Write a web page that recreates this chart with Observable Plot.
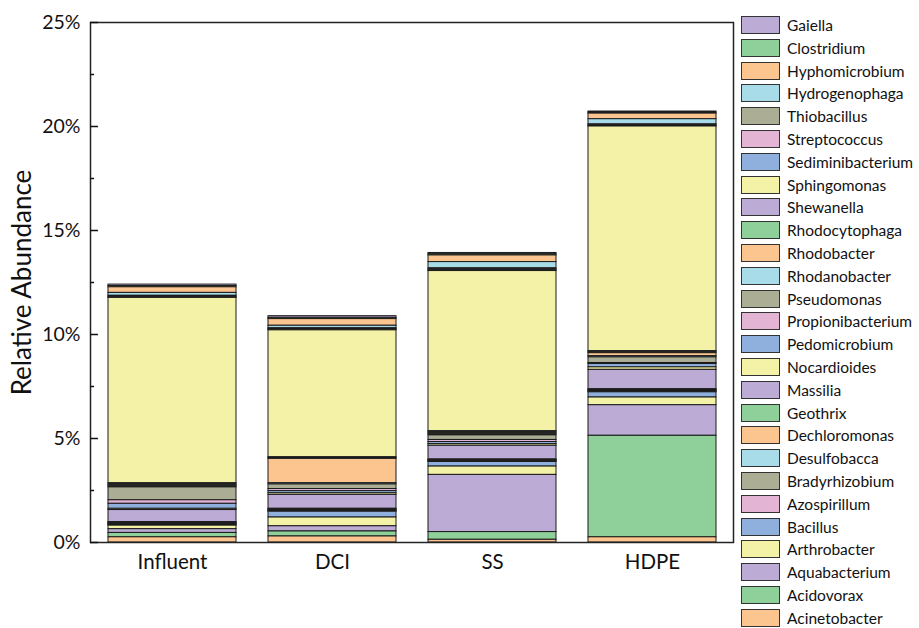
<!DOCTYPE html>
<html><head><meta charset="utf-8">
<script src="https://cdn.jsdelivr.net/npm/d3@7"></script>
<script src="https://cdn.jsdelivr.net/npm/@observablehq/plot@0.6"></script>
<style>
body{margin:0;background:#fff;font-family:Lato,sans-serif;}
#wrap{position:relative;width:919px;height:628px;overflow:hidden;background:#fff;}
#chart{position:absolute;left:0;top:0;}
#legend{position:absolute;left:741px;top:0;}
.row{position:absolute;left:0;height:19px;display:flex;align-items:center;white-space:nowrap;}
.sw{width:37px;height:16px;border:1.5px solid #333;box-sizing:content-box;}
.lab{margin-left:7px;font-size:15.5px;color:#111;}
</style></head><body><div id="wrap"><div id="chart"></div><div id="legend"></div></div>
<script>
// Samples (x categories)
const samples = ["Influent", "DCI", "SS", "HDPE"];
// Genera in legend order (top of stack first)
const genera = ["Gaiella","Clostridium","Hyphomicrobium","Hydrogenophaga","Thiobacillus","Streptococcus","Sediminibacterium","Sphingomonas","Shewanella","Rhodocytophaga","Rhodobacter","Rhodanobacter","Pseudomonas","Propionibacterium","Pedomicrobium","Nocardioides","Massilia","Geothrix","Dechloromonas","Desulfobacca","Bradyrhizobium","Azospirillum","Bacillus","Arthrobacter","Aquabacterium","Acidovorax","Acinetobacter"];
// Relative abundance (%) per sample, in the same order as genera
const influent = [0.07,0.06,0.27,0.14,0.04,0.03,0.03,8.91,0.05,0.05,0.05,0.05,0.62,0.17,0.24,0.06,0.58,0.03,0.03,0.02,0.03,0.02,0.04,0.17,0.18,0.21,0.25];
const dci      = [0.08,0.06,0.32,0.12,0.04,0.03,0.03,6.10,0.04,0.04,1.17,0.06,0.22,0.10,0.10,0.08,0.67,0.03,0.03,0.02,0.03,0.03,0.28,0.42,0.25,0.24,0.29];
const ss       = [0.06,0.06,0.32,0.30,0.05,0.04,0.04,7.70,0.05,0.05,0.05,0.05,0.22,0.10,0.10,0.08,0.66,0.03,0.02,0.02,0.02,0.03,0.22,0.40,2.75,0.37,0.13];
const hdpe     = [0.05,0.05,0.27,0.25,0.04,0.03,0.03,10.80,0.05,0.05,0.14,0.06,0.27,0.05,0.16,0.12,0.93,0.04,0.03,0.02,0.03,0.03,0.25,0.37,1.47,4.88,0.25];
// Axis ticks
const majorTicks = [0, 5, 10, 15, 20, 25];
const minorTicks = [2.5, 7.5, 12.5, 17.5, 22.5];

const palette = ["#BCABD4","#8ECF9A","#FCC58F","#A8DCE9","#ABAE94","#E4B4D5","#8FB0DD","#F4F2A6"];
const colorRange = genera.map((g, i) => palette[i % palette.length]);
const series = [influent, dci, ss, hdpe];
const rows = samples.flatMap((s, j) => genera.map((g, i) => ({sample: s, genus: g, value: series[j][i]})));
const stackOrder = genera.slice().reverse();

const chart = Plot.plot({
  width: 740, height: 628,
  marginLeft: 90, marginRight: 7, marginTop: 22, marginBottom: 86,
  style: {fontFamily: "Lato, sans-serif", fontSize: "17px", color: "#111", background: "transparent"},
  x: {domain: samples, paddingInner: 0.2, paddingOuter: 0.1},
  y: {domain: [0, 25]},
  color: {domain: genera, range: colorRange},
  marks: [
    Plot.barY(rows, {x: "sample", y: "value", fill: "genus", stroke: "#1a1a1a", strokeWidth: 1, order: stackOrder}),
    Plot.frame({stroke: "#222", strokeWidth: 1.5}),
    Plot.axisY({ticks: majorTicks, tickSize: 8, dx: 8, tickFormat: () => "", label: null, strokeWidth: 1.5}),
    Plot.axisY({ticks: minorTicks, tickSize: 4, dx: 4, tickFormat: () => "", label: null, strokeWidth: 1.5}),
    Plot.axisY({ticks: majorTicks, tickSize: 0, tickPadding: 10, tickFormat: d => d + "%", label: null, fontSize: 19.5}),
    Plot.axisX({tickSize: 0, tickPadding: 12, label: null, fontSize: 20.5}),
    Plot.text(["Relative Abundance"], {frameAnchor: "left", textAnchor: "middle", rotate: -90, dx: -68, fontSize: 26, fill: "#111"})
  ]
});
document.getElementById("chart").appendChild(chart);

const legend = d3.select("#legend");
genera.forEach((g, i) => {
  const row = legend.append("div").attr("class", "row").style("top", (15.5 + i * 22.8) + "px");
  row.append("div").attr("class", "sw").style("background", colorRange[i]);
  row.append("span").attr("class", "lab").text(g);
});
</script>
</body></html>
